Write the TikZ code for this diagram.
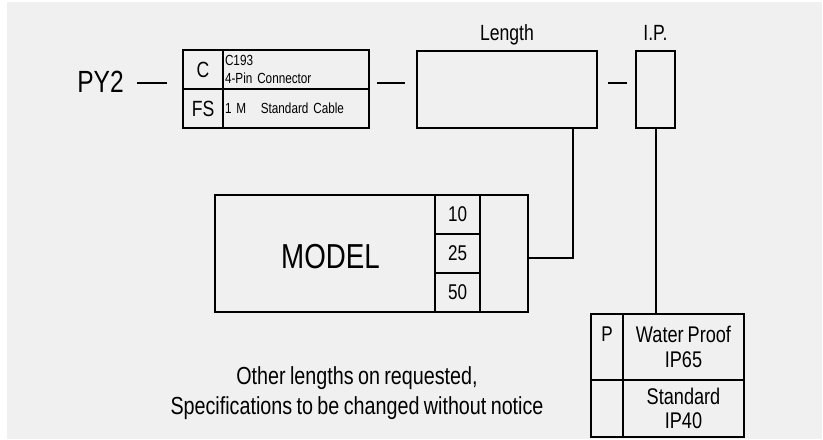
\documentclass[tikz,border=0pt]{standalone}
\usepackage{fontspec}
\setmainfont{Liberation Sans}[FakeStretch=0.8, WordSpace=0.8]
\usetikzlibrary{positioning}

\definecolor{panelgray}{RGB}{240,240,240}

\tikzset{
    cell/.style={draw, line width=1.5pt, inner sep=0pt, anchor=north west, align=center},
    link/.style={line width=1.5pt},
}

\begin{document}
\begin{tikzpicture}[
        x=0.75pt,
        y=-0.75pt,
        font=\fontsize{16.5}{18.5}\selectfont
    ]

    % Background panel
    \useasboundingbox (0,0) rectangle (823,439);
    \fill[panelgray] (7,2) rectangle (822,439);
    \coordinate (rowline) at (0,83);

    % Prefix
    \node[anchor=base, inner sep=0pt, font=\fontsize{23}{26}\selectfont] (py2) at (100.5,92) {PY2};

    % Connector and cable
    \node[cell, minimum width=30pt, minimum height=29.25pt] (cC) at (182,49) {C};
    \node[cell, minimum width=30pt, minimum height=29.25pt] (cFS) at (182,88) {FS};
    \node[cell, minimum width=109.5pt, minimum height=29.25pt, inner xsep=1.5pt,
        text width=106.5pt, align=left, font=\fontsize{11}{13.7}\selectfont]
        (cCtext) at (222,49) {C193\\4-Pin Connector};
    \node[cell, minimum width=109.5pt, minimum height=29.25pt, inner xsep=1.5pt,
        text width=106.5pt, align=left, font=\fontsize{11}{13.7}\selectfont]
        (cFStext) at (222,88) {1 M\quad Standard Cable};

    % Length and I.P.
    \node[cell, minimum width=135pt, minimum height=57.75pt] (lbox) at (416,50) {};
    \node[cell, minimum width=29.25pt, minimum height=57.75pt] (ipbox) at (635,50) {};
    \node[above=6.75pt of lbox, inner sep=0pt, text depth=0pt] (lenlab) {Length};
    \node[above=6.75pt of ipbox, inner sep=0pt, text depth=0pt] (iplab) {I.P.};

    % Model with lengths
    \node[cell, minimum width=234.75pt, minimum height=87.75pt] (model) at (214,194) {};
    \node[anchor=base, inner sep=0pt, font=\fontsize{26}{30}\selectfont] (modeltxt) at (330.5,268.3) {MODEL};
    \foreach \len [count=\i from 0] in {10,25,50}
        \node[cell, minimum width=33.75pt, minimum height=29.25pt, font=\fontsize{16}{18}\selectfont]
            (c\len) at (434,194+39*\i) {\len};

    % Protection table
    \node[cell, minimum width=24pt, minimum height=49.5pt,
        label={[anchor=north, inner sep=0pt, yshift=-10.3pt, font=\fontsize{16}{18}\selectfont]north:P}]
        (pP) at (590,313) {};
    \node[cell, minimum width=90.75pt, minimum height=49.5pt, font=\fontsize{17}{18.5}\selectfont]
        (pwater) at (622,313) {Water Proof\\IP65};
    \node[cell, minimum width=24pt, minimum height=42.75pt] (pblank) at (590,379) {};
    \node[cell, minimum width=90.75pt, minimum height=42.75pt, font=\fontsize{17}{18.5}\selectfont]
        (pstd) at (622,379) {Standard\\IP40};

    % Note
    \node[align=center, inner sep=0pt, font=\fontsize{18.5}{22}\selectfont] (note) at (357,393)
        {Other lengths on requested,\\Specifications to be changed without notice};

    % Links
    \draw[link, shorten <=10pt, shorten >=11pt] (py2.east |- rowline) -- (cC.west |- rowline);
    \draw[link, shorten <=5.25pt, shorten >=8.25pt] (cCtext.east |- rowline) -- (lbox.west |- rowline);
    \draw[link, shorten <=7.5pt, shorten >=6pt] (lbox.east |- rowline) -- (ipbox.west |- rowline);
    \draw[link] ([xshift=-18.75pt]lbox.south east) |- ([yshift=-3.4pt]model.east);
    \draw[link] (ipbox.south) -- (ipbox.south |- pwater.north);

\end{tikzpicture}
\end{document}
